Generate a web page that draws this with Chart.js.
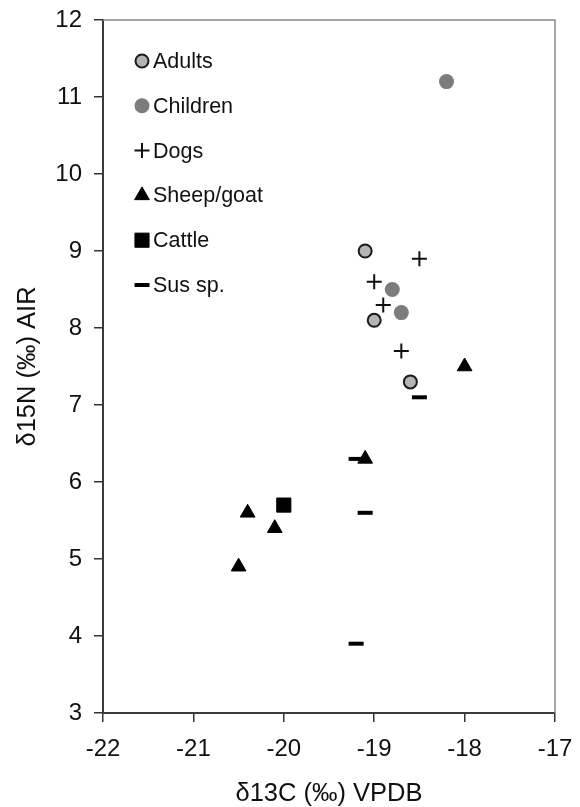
<!DOCTYPE html>
<html>
<head>
<meta charset="utf-8">
<script src="https://cdn.jsdelivr.net/npm/chart.js@4/dist/chart.umd.min.js"></script>
<style>
  html, body { margin: 0; padding: 0; background: #fff; }
  #wrap { width: 580px; height: 807px; }
</style>
</head>
<body>
<div id="wrap"><canvas id="myChart" width="580" height="807"></canvas></div>
<script>
// d13C (x) / d15N (y) per group
const adultsX = [-19.1, -19.0, -18.6];
const adultsY = [9.0, 8.1, 7.3];
const childrenX = [-18.2, -18.8, -18.7];
const childrenY = [11.2, 8.5, 8.2];
const dogsX = [-18.5, -19.0, -18.9, -18.7];
const dogsY = [8.9, 8.6, 8.3, 7.7];
const sheepX = [-18.0, -19.1, -20.4, -20.1, -20.5];
const sheepY = [7.5, 6.3, 5.6, 5.4, 4.9];
const cattleX = [-20.0];
const cattleY = [5.7];
const susX = [-18.5, -19.2, -19.1, -19.2];
const susY = [7.1, 6.3, 5.6, 3.9];

const groupNames = ["Adults", "Children", "Dogs", "Sheep/goat", "Cattle", "Sus sp."];
const xTicks = [-22, -21, -20, -19, -18, -17];
const yTicks = [3, 4, 5, 6, 7, 8, 9, 10, 11, 12];

function toPoints(xs, ys){
    const pts = [];
    for (let i = 0; i < xs.length; i++) {
        pts.push({x: xs[i], y: ys[i]});
    }
    return pts;
}

const FONT = "'Liberation Sans', Arial, sans-serif";

const datasets = [
    {label: groupNames[0], data: toPoints(adultsX, adultsY), pointStyle: 'circle', pointRadius: 6.5,
     backgroundColor: '#b4b4b4', borderColor: '#1a1a1a', borderWidth: 2},
    {label: groupNames[1], data: toPoints(childrenX, childrenY), pointStyle: 'circle', pointRadius: 7.5,
     backgroundColor: '#7c7c7c', borderColor: '#7c7c7c', borderWidth: 0},
    {label: groupNames[2], data: toPoints(dogsX, dogsY), pointStyle: 'cross', pointRadius: 7.5,
     backgroundColor: '#111', borderColor: '#111', borderWidth: 2},
    {label: groupNames[3], data: toPoints(sheepX, sheepY), pointStyle: 'triangle', pointRadius: 8.5,
     backgroundColor: '#000', borderColor: '#000', borderWidth: 1},
    {label: groupNames[4], data: toPoints(cattleX, cattleY), pointStyle: 'rect', pointRadius: 10,
     backgroundColor: '#000', borderColor: '#000', borderWidth: 1},
    {label: groupNames[5], data: toPoints(susX, susY), pointStyle: 'line', pointRadius: 7.5,
     backgroundColor: '#000', borderColor: '#000', borderWidth: 4}
];

// gray frame on top and right of the plot
const framePlugin = {
    id: 'frame',
    beforeDatasetsDraw(chart){
        const {ctx, chartArea: a} = chart;
        ctx.save();
        ctx.strokeStyle = '#8a8a8a';
        ctx.lineWidth = 1.5;
        ctx.beginPath();
        ctx.moveTo(a.left, a.top);
        ctx.lineTo(a.right, a.top);
        ctx.lineTo(a.right, a.bottom);
        ctx.stroke();
        ctx.restore();
    }
};

// legend drawn inside the plot, one row per group
const insideLegend = {
    id: 'insideLegend',
    afterDraw(chart){
        const ctx = chart.ctx;
        const x0 = 142, y0 = 61, step = 44.8;
        ctx.save();
        chart.data.datasets.forEach((ds, i) => {
            const y = y0 + i * step;
            ctx.fillStyle = ds.backgroundColor;
            ctx.strokeStyle = ds.borderColor;
            ctx.lineWidth = ds.borderWidth;
            Chart.helpers.drawPoint(ctx, {pointStyle: ds.pointStyle, radius: ds.pointRadius, rotation: 0, borderWidth: ds.borderWidth}, x0, y);
            ctx.fillStyle = '#111';
            ctx.font = '21.5px ' + FONT;
            ctx.textBaseline = 'middle';
            ctx.textAlign = 'left';
            ctx.fillText(ds.label, x0 + 11, y + 1);
        });
        ctx.restore();
    }
};

function drawChart(target){
    const ctx = document.getElementById(target);
    new Chart(ctx, {
        type: 'scatter',
        data: {datasets: datasets},
        options: {
            responsive: false,
            animation: false,
            layout: {padding: {top: 20, right: 25, left: 0, bottom: 0}},
            plugins: {legend: {display: false}, tooltip: {enabled: false}},
            scales: {
                x: {
                    type: 'linear', min: xTicks[0], max: xTicks[xTicks.length - 1],
                    afterBuildTicks: s => { s.ticks = xTicks.map(v => ({value: v})); },
                    afterFit: s => { s.height = 94; s.paddingLeft = 0; s.paddingRight = 0; },
                    grid: {drawOnChartArea: false, drawTicks: true, tickLength: 9, color: '#333', lineWidth: 1.5},
                    border: {display: true, color: '#3a3a3a', width: 2},
                    ticks: {color: '#111', font: {family: FONT, size: 24}, padding: 13},
                    title: {display: true, text: 'δ13C (‰) VPDB', color: '#111',
                            font: {family: FONT, size: 25.5, lineHeight: 1.0},
                            padding: {top: 0, bottom: 0}}
                },
                y: {
                    type: 'linear', min: yTicks[0], max: yTicks[yTicks.length - 1],
                    afterBuildTicks: s => { s.ticks = yTicks.map(v => ({value: v})); },
                    afterFit: s => { s.width = 103; s.paddingTop = 0; s.paddingBottom = 0; },
                    grid: {drawOnChartArea: false, drawTicks: true, tickLength: 9, color: '#333', lineWidth: 1.5},
                    border: {display: true, color: '#3a3a3a', width: 2},
                    ticks: {color: '#111', font: {family: FONT, size: 24}, padding: 12},
                    title: {display: true, text: 'δ15N (‰) AIR', color: '#111',
                            font: {family: FONT, size: 25.5, lineHeight: 1.0},
                            padding: {top: 15, bottom: 0}}
                }
            }
        },
        plugins: [framePlugin, insideLegend]
    });
}

drawChart("myChart");
</script>
</body>
</html>
